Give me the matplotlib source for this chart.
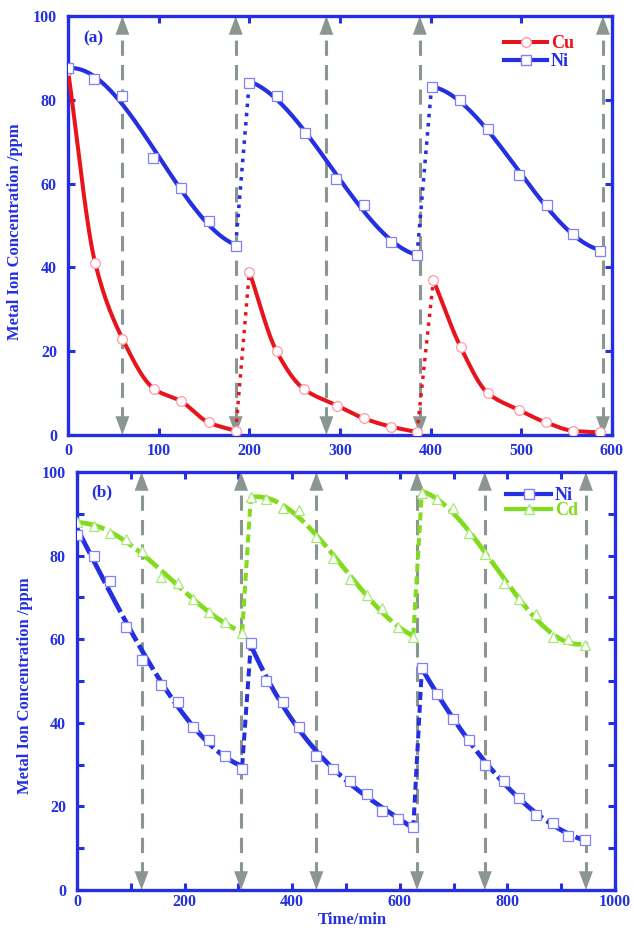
import numpy as np
import matplotlib
matplotlib.use("Agg")
import matplotlib.pyplot as plt
from matplotlib.lines import Line2D
from matplotlib.ticker import MultipleLocator

plt.rcParams['font.family'] = ['Liberation Serif', 'DejaVu Serif']
plt.rcParams['font.weight'] = 'bold'

# ---- (a) Cu / Ni, three adsorption cycles ----
a_cu_t = [[0, 30, 60, 95, 125, 155, 185],
          [200, 230, 260, 297, 326, 356, 385],
          [403, 433, 463, 497, 527, 557, 587]]
a_cu = [[87, 41, 23, 11, 8, 3, 1],
        [39, 20, 11, 7, 4, 2, 0.7],
        [37, 21, 10, 6, 3, 1, 0.6]]
a_ni_t = [[0, 29, 60, 94, 125, 155, 185],
          [200, 231, 261, 296, 326, 356, 385],
          [401, 432, 463, 497, 528, 557, 587]]
a_ni = [[87.5, 85, 81, 66, 59, 51, 45],
        [84, 81, 72, 61, 55, 46, 43],
        [83, 80, 73, 62, 55, 48, 44]]
a_arrows = [60, 185, 285, 388, 590]

# ---- (b) Ni / Cd, three adsorption cycles ----
b_t = [[0, 32, 61, 91, 121, 156, 187, 216, 246, 276, 307],
       [323, 351, 383, 413, 444, 476, 507, 539, 567, 597, 625],
       [641, 669, 699, 729, 758, 794, 822, 853, 885, 913, 944]]
b_ni = [[85, 80, 74, 63, 55, 49, 45, 39, 36, 32, 29],
        [59, 50, 45, 39, 32, 29, 26, 23, 19, 17, 15],
        [53, 47, 41, 36, 30, 26, 22, 18, 16, 13, 12]]
b_cd = [[88, 87, 85.5, 84, 81, 75, 73.5, 69.5, 66.5, 64, 61.5],
        [94, 93.5, 91.5, 91, 84.5, 79.5, 74.5, 70.5, 67.5, 63, 60.5],
        [95, 93.5, 91.5, 85.5, 80.5, 73.5, 69.5, 66, 60.5, 60, 58.5]]
b_arrows = [120, 305, 445, 632, 758, 946]

BLUE = '#2430e0'
RED = '#e8141c'
GREEN = '#82dc1e'
GRAY = '#8c9691'


def pchip(x, y, xs):
    x = np.asarray(x, float)
    y = np.asarray(y, float)
    h = np.diff(x)
    d = np.diff(y) / h
    m = np.zeros_like(y)
    m[0], m[-1] = d[0], d[-1]
    for k in range(1, len(x) - 1):
        if d[k - 1] * d[k] > 0:
            w1 = 2 * h[k] + h[k - 1]
            w2 = h[k] + 2 * h[k - 1]
            m[k] = (w1 + w2) / (w1 / d[k - 1] + w2 / d[k])
    idx = np.clip(np.searchsorted(x, xs) - 1, 0, len(x) - 2)
    t = (xs - x[idx]) / h[idx]
    h00 = 2 * t**3 - 3 * t**2 + 1
    h10 = t**3 - 2 * t**2 + t
    h01 = -2 * t**3 + 3 * t**2
    h11 = t**3 - t**2
    return (h00 * y[idx] + h10 * h[idx] * m[idx]
            + h01 * y[idx + 1] + h11 * h[idx] * m[idx + 1])


def cubic(x, y, xs):
    return np.polyval(np.polyfit(x, y, 3), xs)


def draw_series(ax, times, values, smooth, color, lw, dashes, conn_dashes,
                marker, ms, mec):
    ends = []
    for t, v in zip(times, values):
        xs = np.linspace(t[0], t[-1], 200)
        ys = smooth(t, v, xs)
        ln, = ax.plot(xs, ys, color=color, lw=lw, zorder=3,
                      solid_capstyle='round')
        if dashes:
            ln.set_dashes(dashes)
        ends.append((xs[0], ys[0], xs[-1], ys[-1]))
        ax.plot(t, v, ls='none', marker=marker, ms=ms, mfc='white',
                mec=mec, mew=0.9, zorder=4)
    for (s0, y0, e0, ye), (s1, y1, e1, y1e) in zip(ends[:-1], ends[1:]):
        c, = ax.plot([e0, s1], [ye, y1], color=color, lw=lw * 0.85, zorder=3)
        c.set_dashes(conn_dashes)


def draw_arrows(ax, xs):
    for x in xs:
        ln, = ax.plot([x, x], [3, 97], color=GRAY, lw=2.2, zorder=2)
        ln.set_dashes((5, 3))
        for tip, tail in ((100, 90), (0, 10)):
            ax.annotate('', xy=(x, tip), xytext=(x, tail),
                        arrowprops=dict(arrowstyle='-|>,head_length=1.35,head_width=0.5',
                                        color=GRAY, lw=0, shrinkA=0, shrinkB=0,
                                        mutation_scale=10),
                        zorder=2)


def style_axes(ax, xmax, xmajor, xminor, ymajor, yminor, xpad):
    ax.set_ylim(0, 100)
    ax.set_xlim(0, xmax)
    for s in ax.spines.values():
        s.set_color(BLUE)
        s.set_linewidth(2.4)
    ax.xaxis.set_major_locator(MultipleLocator(xmajor))
    ax.yaxis.set_major_locator(MultipleLocator(ymajor))
    if xminor:
        ax.xaxis.set_minor_locator(MultipleLocator(xminor))
    if yminor:
        ax.yaxis.set_minor_locator(MultipleLocator(yminor))
    ax.tick_params(which='both', direction='in', top=True, right=True,
                   color=BLUE, width=2.2, labelcolor=BLUE, labelsize=11.5)
    ax.tick_params(which='major', length=5)
    ax.tick_params(which='minor', length=5)
    ax.tick_params(axis='x', pad=xpad)
    ax.tick_params(axis='y', pad=8)
    for lab in ax.get_xticklabels() + ax.get_yticklabels():
        lab.set_fontweight('bold')


fig = plt.figure(figsize=(6.34, 9.34), dpi=100)
ax1 = fig.add_axes([68 / 634, 1 - 435 / 934, 544 / 634, 419 / 934])
ax2 = fig.add_axes([77 / 634, 1 - 890 / 934, 538 / 634, 418 / 934])

# panel (a)
style_axes(ax1, 600, 100, None, 20, None, 6)
draw_arrows(ax1, a_arrows)
draw_series(ax1, a_cu_t, a_cu, pchip, RED, 2.9, None, (1, 1.6), 'o', 7, '#ff9aa8')
draw_series(ax1, a_ni_t, a_ni, cubic, BLUE, 3.0, None, (1, 1.6), 's', 6.5, '#8080ff')
ax1.text(93 / 634, 1 - 38 / 934, '(a)', transform=fig.transFigure, color=BLUE,
         fontsize=12.5, fontweight='bold', ha='center', va='center')
h_a = [Line2D([], [], color=RED, lw=2.9, marker='o', ms=7, mfc='white', mec='#ff9aa8'),
       Line2D([], [], color=BLUE, lw=3.0, marker='s', ms=6.5, mfc='white', mec='#8080ff')]
leg1 = ax1.legend(h_a, ['Cu', 'Ni'], loc='upper left',
                  bbox_to_anchor=(504 / 634, 1 - 35 / 934),
                  bbox_transform=fig.transFigure, frameon=False, numpoints=1,
                  handlelength=2.4, handletextpad=0.2, labelspacing=0.05,
                  borderpad=0, borderaxespad=0,
                  prop=dict(family='Liberation Serif', weight='bold', size=13))
for txt, c in zip(leg1.get_texts(), [RED, BLUE]):
    txt.set_color(c)

# panel (b)
style_axes(ax2, 1000, 200, 100, 20, 10, 3)
draw_arrows(ax2, b_arrows)
draw_series(ax2, b_t, b_cd, cubic, GREEN, 3.4, (6, 1), (2, 1.2), '^', 6.5, '#a8e878')
draw_series(ax2, b_t, b_ni, cubic, BLUE, 3.4, (6, 1), (2, 1.2), 's', 6.5, '#8080ff')
ax2.text(102 / 634, 1 - 492 / 934, '(b)', transform=fig.transFigure, color=BLUE,
         fontsize=12.5, fontweight='bold', ha='center', va='center')
h_b = [Line2D([], [], color=BLUE, lw=3.0, marker='s', ms=6.5, mfc='white', mec='#8080ff'),
       Line2D([], [], color=GREEN, lw=3.0, marker='^', ms=6.5, mfc='white', mec='#a8e878')]
leg2 = ax2.legend(h_b, ['Ni', 'Cd'], loc='upper left',
                  bbox_to_anchor=(506 / 634, 1 - 487 / 934),
                  bbox_transform=fig.transFigure, frameon=False, numpoints=1,
                  handlelength=2.5, handletextpad=0.2, labelspacing=-0.1,
                  borderpad=0, borderaxespad=0,
                  prop=dict(family='Liberation Serif', weight='bold', size=13))
for txt, c in zip(leg2.get_texts(), [BLUE, GREEN]):
    txt.set_color(c)

# axis titles
fig.text(15 / 634, 1 - 232 / 934, 'Metal Ion Concentration /ppm', rotation=90,
         color=BLUE, fontsize=12, fontweight='bold', ha='center', va='center')
fig.text(25 / 634, 1 - 686 / 934, 'Metal Ion Concentration /ppm', rotation=90,
         color=BLUE, fontsize=12, fontweight='bold', ha='center', va='center')
fig.text(352 / 634, 1 - 920 / 934, 'Time/min', color=BLUE, fontsize=12,
         fontweight='bold', ha='center', va='center')

fig.savefig('out.png', dpi=100)
